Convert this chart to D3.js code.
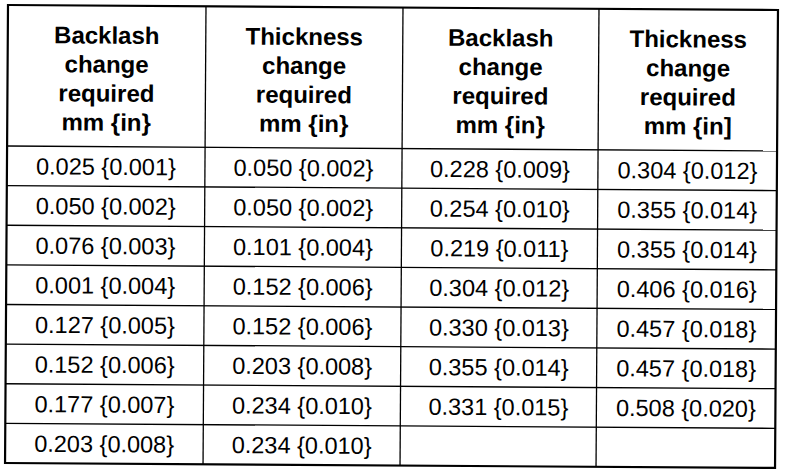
<!DOCTYPE html>
<html>
<head>
<meta charset="utf-8">
<script src="https://cdn.jsdelivr.net/npm/d3@7"></script>
<style>
  html, body { margin: 0; padding: 0; background: #fff; }
  svg { display: block; }
</style>
</head>
<body>
<svg id="chart" width="800" height="476"></svg>
<script>
// ---- Data ----
const headers = [
  ["Backlash", "change", "required", "mm {in}"],
  ["Thickness", "change", "required", "mm {in}"],
  ["Backlash", "change", "required", "mm {in}"],
  ["Thickness", "change", "required", "mm {in]"]
];
const backlashMm1  = [0.025, 0.050, 0.076, 0.001, 0.127, 0.152, 0.177, 0.203];
const backlashIn1  = [0.001, 0.002, 0.003, 0.004, 0.005, 0.006, 0.007, 0.008];
const thicknessMm1 = [0.050, 0.050, 0.101, 0.152, 0.152, 0.203, 0.234, 0.234];
const thicknessIn1 = [0.002, 0.002, 0.004, 0.006, 0.006, 0.008, 0.010, 0.010];
const backlashMm2  = [0.228, 0.254, 0.219, 0.304, 0.330, 0.355, 0.331];
const backlashIn2  = [0.009, 0.010, 0.011, 0.012, 0.013, 0.014, 0.015];
const thicknessMm2 = [0.304, 0.355, 0.355, 0.406, 0.457, 0.457, 0.508];
const thicknessIn2 = [0.012, 0.014, 0.014, 0.016, 0.018, 0.018, 0.020];
const rowCount = 8;

// ---- Layout ----
const originX = 8, originY = 5;
const colEdges = [0, 198, 395, 591, 770];
const headerH = 141, tableBottom = 458;
const skewDeg = 0.37;

const fmt = d3.format(".3f");
const columns = [
  backlashMm1.map((v, i) => `${fmt(v)} {${fmt(backlashIn1[i])}}`),
  thicknessMm1.map((v, i) => `${fmt(v)} {${fmt(thicknessIn1[i])}}`),
  backlashMm2.map((v, i) => `${fmt(v)} {${fmt(backlashIn2[i])}}`),
  thicknessMm2.map((v, i) => `${fmt(v)} {${fmt(thicknessIn2[i])}}`)
];

const y = d3.scaleLinear().domain([0, rowCount]).range([headerH, tableBottom]);
const colCenter = i => (colEdges[i] + colEdges[i + 1]) / 2;

const svg = d3.select("#chart");
const g = svg.append("g")
  .attr("transform", `translate(${originX},${originY}) rotate(${skewDeg})`);

const W = colEdges[colEdges.length - 1];

// inner horizontal lines
const rowLines = d3.range(0, rowCount).map(k => y(k));
g.selectAll("line.h").data(rowLines).join("line")
  .attr("class", "h")
  .attr("x1", 0).attr("x2", W)
  .attr("y1", d => d).attr("y2", d => d)
  .attr("stroke", "#000").attr("stroke-width", 1.3);

// inner vertical lines
g.selectAll("line.v").data(colEdges.slice(1, -1)).join("line")
  .attr("class", "v")
  .attr("x1", d => d).attr("x2", d => d)
  .attr("y1", 0).attr("y2", tableBottom)
  .attr("stroke", "#000").attr("stroke-width", 1.3);

// outer border
g.append("rect")
  .attr("x", 0).attr("y", 0)
  .attr("width", W).attr("height", tableBottom)
  .attr("fill", "none").attr("stroke", "#000").attr("stroke-width", 2.2);

// headers
const lineGap = 29, firstBase = 38;
headers.forEach((lines, ci) => {
  g.append("text")
    .attr("x", colCenter(ci))
    .attr("text-anchor", "middle")
    .attr("font-family", "'Liberation Sans', Arial, Helvetica, sans-serif")
    .attr("font-weight", "bold")
    .attr("font-size", 24)
    .attr("fill", "#000")
    .selectAll("tspan").data(lines).join("tspan")
    .attr("x", colCenter(ci))
    .attr("y", (d, i) => firstBase + i * lineGap)
    .text(d => d);
});

// data cells
columns.forEach((vals, ci) => {
  g.selectAll(`text.c${ci}`).data(vals).join("text")
    .attr("class", `c${ci}`)
    .attr("x", colCenter(ci))
    .attr("y", (d, i) => (y(i) + y(i + 1)) / 2 + 8.4)
    .attr("text-anchor", "middle")
    .attr("font-family", "'Liberation Sans', Arial, Helvetica, sans-serif")
    .attr("font-size", 23.5)
    .attr("fill", "#000")
    .text(d => d);
});
</script>
</body>
</html>
